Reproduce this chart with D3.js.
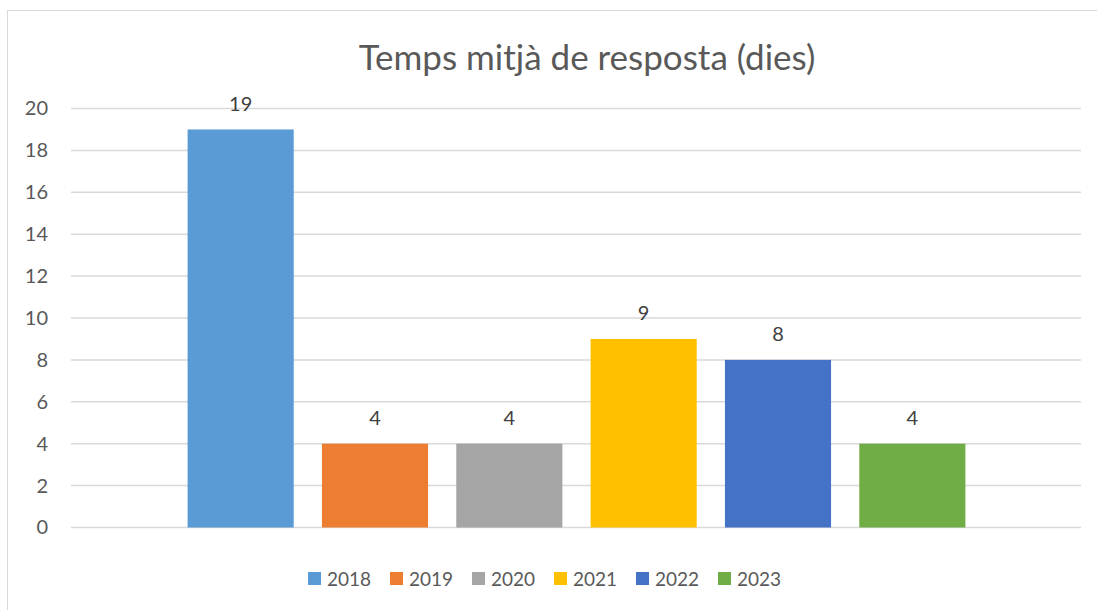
<!DOCTYPE html>
<html>
<head>
<meta charset="utf-8">
<script src="https://cdn.jsdelivr.net/npm/d3@7"></script>
<style>
  html, body { margin: 0; padding: 0; background: #fff; }
  svg { display: block; font-family: Lato, "Open Sans", sans-serif; }
</style>
</head>
<body>
<div id="chart"></div>
<script>
// Temps mitjà de resposta, one bar per year (Excel-style clustered column)
const years = ['2018', '2019', '2020', '2021', '2022', '2023'];
const values = [19, 4, 4, 9, 8, 4];
const colors = ['#5B9BD5', '#ED7D31', '#A5A5A5', '#FFC000', '#4472C4', '#70AD47'];
const yTicks = [0, 2, 4, 6, 8, 10, 12, 14, 16, 18, 20];
const title = 'Temps mitjà de resposta (dies)';

const W = 1097, H = 610;
const plot = { left: 71, right: 1081, top: 108.5, bottom: 527.5 };

const svg = d3.select('#chart').append('svg')
  .attr('width', W).attr('height', H);

// chart frame
svg.append('rect')
  .attr('x', 7.5).attr('y', 10.5)
  .attr('width', 1100).attr('height', 620)
  .attr('fill', '#fff').attr('stroke', '#d9d9d9').attr('stroke-width', 1);

const y = d3.scaleLinear().domain([0, 20]).range([plot.bottom, plot.top]);
const x = d3.scaleBand().domain(years)
  .range([173.5, 979.5]).paddingInner(0.21).paddingOuter(0.105);

// gridlines
svg.append('g').selectAll('line').data(yTicks).join('line')
  .attr('x1', plot.left).attr('x2', plot.right)
  .attr('y1', d => y(d)).attr('y2', d => y(d))
  .attr('stroke', '#d9d9d9').attr('stroke-width', 1.5);

// y axis labels
const yAxis = svg.append('g')
  .attr('transform', `translate(${plot.left - 23},0)`)
  .call(d3.axisLeft(y).tickValues(yTicks).tickSize(0).tickPadding(0));
yAxis.select('.domain').remove();
yAxis.selectAll('text')
  .attr('font-family', 'Lato, "Open Sans", sans-serif')
  .attr('font-size', 20).attr('fill', '#595959');

// bars
svg.append('g').selectAll('rect').data(years).join('rect')
  .attr('x', d => x(d))
  .attr('width', x.bandwidth())
  .attr('y', (d, i) => y(values[i]))
  .attr('height', (d, i) => y(0) - y(values[i]))
  .attr('fill', (d, i) => colors[i]);

// data labels
svg.append('g').selectAll('text').data(years).join('text')
  .attr('x', d => x(d) + x.bandwidth() / 2)
  .attr('y', (d, i) => y(values[i]) - 18.5)
  .attr('text-anchor', 'middle')
  .attr('font-size', 20).attr('fill', '#404040')
  .text((d, i) => values[i]);

// title
svg.append('text')
  .attr('x', 587).attr('y', 70)
  .attr('text-anchor', 'middle')
  .attr('font-size', 35).attr('fill', '#595959')
  .text(title);

// legend
const leg = svg.append('g');
const item = leg.selectAll('g').data(years).join('g')
  .attr('transform', (d, i) => `translate(${308 + i * 82},0)`);
item.append('rect')
  .attr('x', 0).attr('y', 572).attr('width', 13).attr('height', 13)
  .attr('fill', (d, i) => colors[i]);
item.append('text')
  .attr('x', 19).attr('y', 586)
  .attr('font-size', 19).attr('fill', '#595959')
  .text(d => d);
</script>
</body>
</html>
